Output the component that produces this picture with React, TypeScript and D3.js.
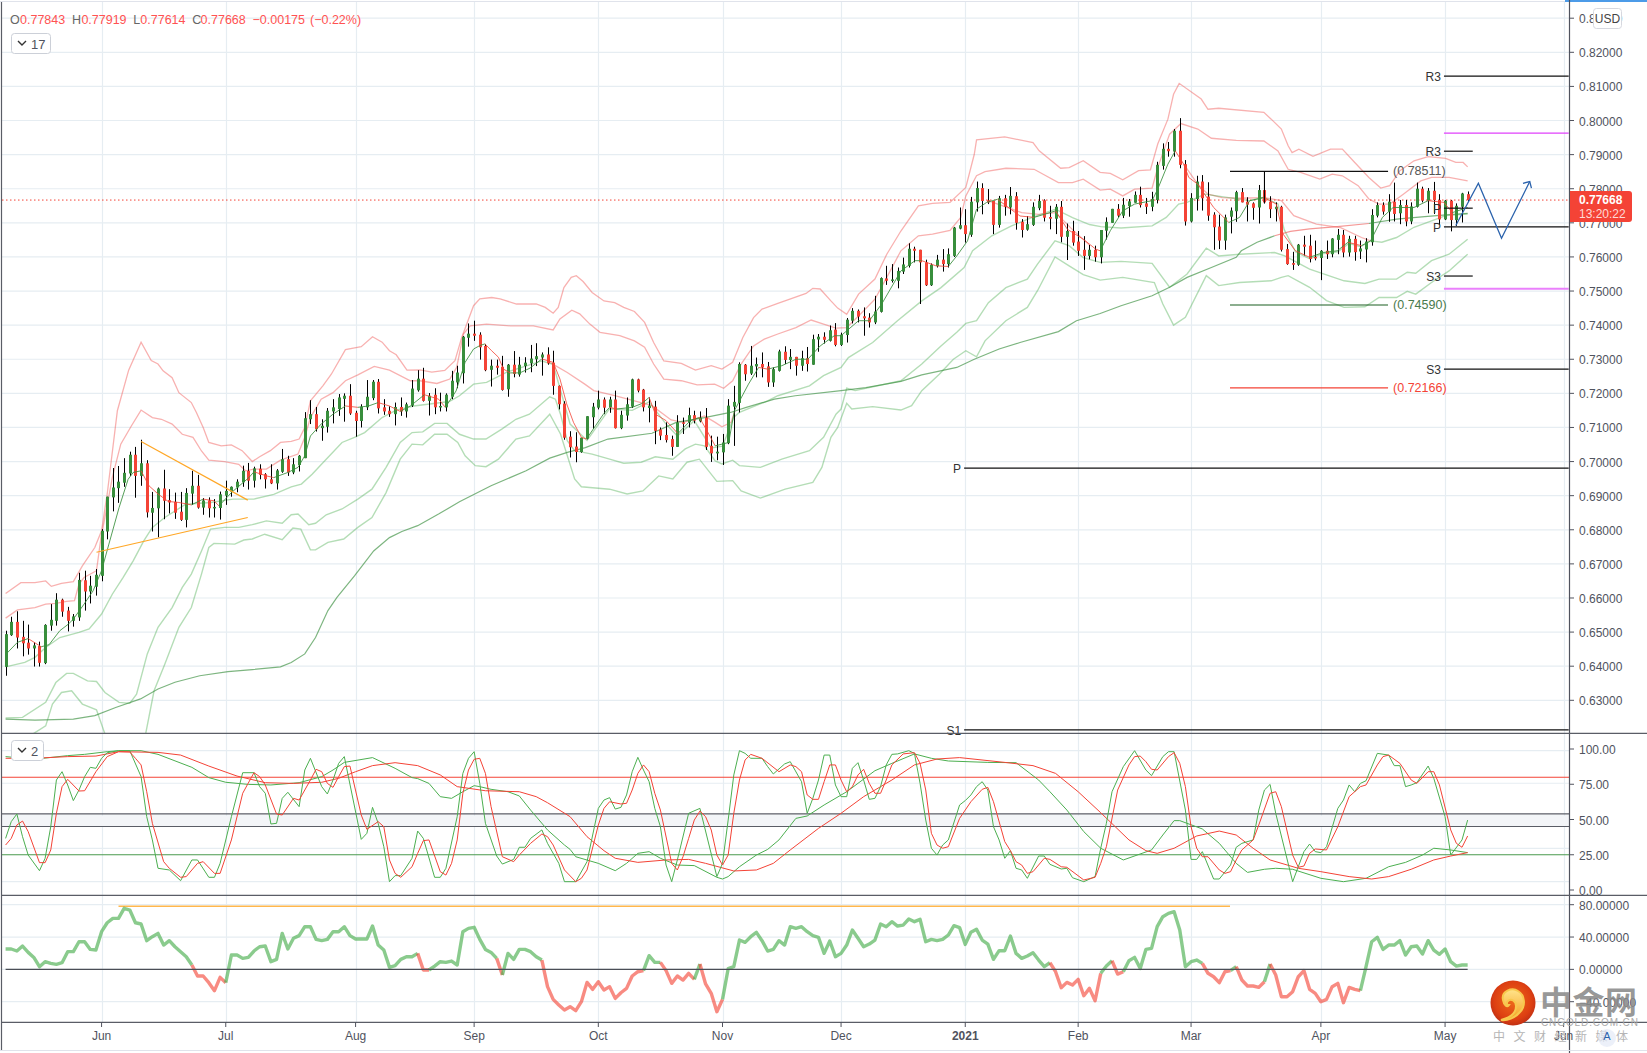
import React from "react";
import * as d3 from "d3";

type P = [number, number];
// [open, high, low, close] × 1e4, one per trading day
const candles: number[][] = [
[6398,6504,6372,6494],[6491,6545,6489,6530],[6530,6561,6452,6484],[6486,6533,6429,6467],[6469,6522,6434,6452],[6452,6470,6399,6461],[6459,6472,6399,6410],[6409,6523,6406,6521],[6519,6582,6504,6536],[6533,6614,6519,6595],
[6595,6598,6545,6560],[6563,6574,6502,6533],[6533,6553,6516,6546],[6543,6674,6533,6653],[6652,6680,6563,6619],[6619,6665,6584,6636],[6633,6685,6607,6668],[6665,6802,6649,6797],[6795,6897,6772,6897],[6895,6981,6854,6924],
[6922,6987,6879,6941],[6938,7010,6926,6967],[6965,7029,6958,7020],[7020,7043,6894,6958],[6958,7064,6929,6995],[6995,7004,6836,6851],[6850,6911,6795,6864],[6863,6924,6778,6921],[6921,6976,6831,6885],[6887,6919,6848,6880],
[6882,6909,6832,6850],[6853,6911,6826,6829],[6829,6922,6807,6908],[6906,6973,6873,6929],[6929,6961,6862,6865],[6865,6893,6844,6886],[6886,6895,6836,6863],[6863,6890,6836,6867],[6864,6912,6830,6904],[6900,6944,6873,6914],
[6912,6927,6897,6926],[6924,6948,6910,6941],[6939,6988,6926,6973],[6973,6996,6918,6944],[6944,6985,6924,6980],[6979,6992,6948,6961],[6963,6966,6921,6948],[6948,6992,6934,6936],[6936,6978,6918,6974],[6970,7037,6967,7007],
[7007,7017,6958,6968],[6968,7010,6963,6992],[6990,7019,6971,7017],[7010,7145,7010,7127],[7124,7180,7110,7139],[7139,7160,7088,7095],[7098,7124,7061,7105],[7102,7157,7085,7149],[7147,7183,7112,7159],[7154,7198,7134,7188],
[7184,7200,7117,7193],[7193,7227,7137,7141],[7143,7149,7073,7119],[7119,7168,7100,7161],[7159,7239,7151,7190],[7186,7239,7180,7234],[7234,7242,7141,7156],[7159,7183,7137,7147],[7149,7162,7131,7139],[7139,7173,7106,7160],
[7160,7188,7134,7147],[7147,7173,7129,7168],[7164,7239,7160,7214],[7209,7268,7205,7243],[7243,7275,7176,7178],[7178,7201,7135,7193],[7196,7215,7139,7159],[7159,7202,7147,7163],[7159,7200,7147,7196],[7190,7266,7183,7237],
[7232,7281,7215,7261],[7259,7368,7229,7366],[7363,7405,7337,7375],[7375,7413,7354,7369],[7372,7379,7299,7335],[7339,7345,7265,7268],[7269,7299,7220,7281],[7281,7299,7255,7275],[7278,7310,7208,7210],[7212,7286,7190,7284],
[7284,7324,7247,7257],[7255,7307,7249,7284],[7280,7306,7261,7290],[7288,7342,7262,7302],[7300,7347,7280,7309],[7305,7320,7252,7314],[7314,7335,7284,7288],[7290,7325,7196,7222],[7222,7223,7153,7168],[7170,7177,7064,7070],
[7073,7089,7012,7042],[7044,7086,6998,7028],[7028,7070,7026,7070],[7067,7133,7065,7133],[7130,7172,7096,7161],[7158,7208,7153,7182],[7182,7188,7139,7158],[7159,7190,7143,7182],[7182,7208,7097,7098],[7098,7149,7095,7137],
[7135,7188,7120,7168],[7161,7243,7157,7241],[7241,7243,7203,7208],[7211,7213,7147,7159],[7157,7188,7115,7164],[7161,7178,7051,7090],[7094,7100,7063,7076],[7078,7115,7056,7063],[7066,7076,7017,7043],[7043,7136,7043,7115],
[7115,7129,7081,7114],[7115,7158,7100,7136],[7136,7149,7112,7120],[7118,7147,7115,7129],[7129,7157,7034,7043],[7046,7076,6999,7024],[7024,7073,7004,7029],[7027,7081,6990,7056],[7054,7183,7051,7164],[7161,7222,7046,7175],
[7172,7291,7144,7286],[7284,7286,7237,7256],[7258,7339,7254,7281],[7279,7305,7247,7286],[7286,7320,7247,7276],[7279,7292,7219,7232],[7232,7276,7219,7271],[7266,7328,7264,7323],[7322,7338,7286,7298],[7298,7330,7271,7307],
[7307,7307,7252,7281],[7281,7325,7266,7303],[7303,7336,7264,7286],[7284,7372,7284,7359],[7358,7374,7322,7366],[7366,7379,7346,7357],[7354,7399,7352,7385],[7387,7406,7338,7342],[7342,7378,7339,7372],[7371,7421,7349,7416],
[7413,7450,7405,7442],[7442,7446,7408,7425],[7426,7452,7369,7420],[7422,7435,7393,7408],[7408,7486,7403,7440],[7439,7540,7437,7538],[7537,7574,7518,7530],[7530,7579,7525,7534],[7530,7569,7508,7559],[7557,7598,7550,7578],
[7574,7640,7569,7624],[7624,7630,7584,7618],[7621,7621,7462,7584],[7584,7592,7515,7517],[7517,7581,7515,7577],[7573,7606,7569,7592],[7592,7623,7557,7579],[7579,7625,7569,7608],[7603,7688,7600,7686],[7683,7745,7681,7693],
[7693,7740,7642,7667],[7665,7776,7659,7762],[7760,7821,7733,7802],[7802,7816,7725,7764],[7766,7799,7755,7760],[7764,7764,7667,7694],[7694,7779,7686,7772],[7772,7782,7721,7747],[7745,7805,7725,7779],[7778,7790,7680,7700],
[7703,7711,7657,7679],[7680,7720,7677,7696],[7694,7760,7691,7747],[7743,7782,7737,7764],[7766,7769,7704,7715],[7717,7750,7681,7712],[7712,7755,7667,7747],[7747,7764,7643,7659],[7659,7698,7591,7676],[7676,7706,7633,7642],
[7645,7676,7603,7618],[7621,7661,7562,7603],[7603,7635,7593,7621],[7621,7633,7586,7599],[7599,7679,7581,7679],[7677,7716,7651,7703],[7700,7741,7700,7741],[7741,7755,7716,7721],[7721,7773,7714,7753],[7749,7770,7718,7763],
[7759,7792,7759,7782],[7782,7806,7745,7752],[7757,7773,7726,7747],[7747,7791,7734,7770],[7767,7879,7757,7870],[7867,7933,7856,7917],[7917,7937,7894,7910],[7909,7975,7894,7970],[7970,8007,7860,7870],[7872,7884,7692,7704],
[7704,7787,7701,7773],[7770,7838,7736,7821],[7821,7840,7736,7772],[7777,7819,7706,7721],[7724,7731,7621,7687],[7689,7724,7623,7648],[7648,7724,7621,7716],[7718,7745,7669,7736],[7734,7794,7703,7790],[7790,7802,7760,7760],
[7762,7775,7704,7753],[7757,7760,7709,7744],[7745,7811,7698,7796],[7796,7851,7757,7760],[7762,7778,7714,7740],[7740,7760,7704,7747],[7747,7750,7616,7621],[7623,7638,7577,7579],[7582,7615,7562,7577],[7577,7638,7574,7636],
[7636,7662,7604,7630],[7633,7665,7584,7594],[7600,7648,7590,7597],[7597,7620,7532,7618],[7618,7648,7594,7608],[7608,7655,7599,7654],[7650,7682,7608,7665],[7665,7679,7599,7613],[7613,7662,7601,7653],[7653,7662,7589,7614],
[7616,7648,7594,7625],[7622,7655,7584,7645],[7643,7740,7633,7723],[7721,7760,7716,7752],[7752,7760,7724,7733],[7733,7784,7703,7762],[7762,7818,7704,7726],[7728,7767,7696,7752],[7752,7767,7690,7704],[7704,7760,7696,7748],
[7747,7818,7745,7800],[7800,7806,7760,7765],[7765,7802,7728,7794],[7794,7820,7726,7767],[7767,7784,7694,7710],[7710,7767,7708,7765],[7765,7767,7675,7708],[7708,7757,7691,7750],[7747,7788,7701,7786],[7784,7792,7761,7767],
];

const upperOuter: P[] = [[0,6613],[2.7,6645],[5.2,6645],[7.1,6650],[8.1,6634],[9.9,6643],[12,6648],[13.6,6694],[15.8,6748],[17,6797],[18,6905],[19.8,7149],[21.8,7268],[24,7350],[25.8,7296],[27,7286],[27.9,7266],[29.5,7246],[30.7,7202],[32.9,7173],[33.8,7144],[35,7100],[36,7056],[38.2,7046],[40,7049],[41.9,7032],[43.7,7000],[45,7014],[46.9,7032],[48.7,7056],[50.6,7059],[52,7066],[53,7100],[54,7178],[56.2,7222],[57.7,7256],[60.2,7328],[63,7337],[65,7366],[66.7,7350],[68,7325],[69.2,7313],[71.1,7268],[73.4,7269],[75.5,7262],[77.8,7267],[79.6,7296],[80.8,7364],[82.9,7457],[84,7477],[86.1,7481],[87.6,7477],[90.5,7462],[94,7462],[95.6,7452],[97,7435],[97.9,7452],[98.9,7510],[100.2,7540],[101.1,7545],[102.3,7528],[103.9,7496],[106,7471],[107.9,7466],[109.5,7452],[111.4,7440],[113.2,7408],[114.8,7349],[116.6,7295],[119.7,7288],[122.2,7268],[125,7281],[126.9,7271],[128.8,7291],[130.6,7364],[132.5,7422],[134,7447],[136.8,7464],[141.8,7493],[143,7508],[144.3,7506],[146.2,7471],[147.4,7450],[149,7432],[151.1,7491],[154,7535],[156.1,7608],[158.6,7676],[161.7,7750],[164.2,7757],[167.3,7760],[170.1,7804],[171.6,7901],[172,7943],[177,7952],[182,7935],[183.1,7911],[186.9,7860],[188.4,7862],[190.9,7882],[193.9,7848],[195.7,7845],[197.9,7826],[200.7,7853],[202.8,7855],[204.1,7931],[205.9,8004],[206.9,8077],[207.9,8109],[211.8,8063],[213,8033],[214.9,8036],[222.9,8024],[224.2,8004],[226,7975],[227.2,7926],[227.9,7906],[229.1,7916],[231.6,7895],[234.7,7916],[236.8,7916],[239,7877],[241.5,7833],[243.6,7802],[245.2,7809],[247,7853],[249.5,7882],[252,7894],[255.1,7889],[256.9,7877],[258.2,7877],[259,7864]];
const upperInner: P[] = [[0,6541],[2.1,6565],[5.2,6572],[7.1,6582],[8.9,6584],[10.8,6590],[12.2,6592],[13,6641],[13.9,6660],[16.1,6680],[16.9,6777],[17.6,6836],[18.9,6953],[20.4,7051],[22.3,7105],[24,7151],[26,7129],[27.6,7124],[29.5,7110],[31.3,7080],[33.2,7071],[34.7,7031],[36,7004],[38.8,7000],[41.3,6992],[42.5,6973],[44,6978],[46.2,6978],[48.7,7004],[51.8,7022],[53,7071],[54,7129],[55.9,7183],[58,7202],[60.2,7237],[62.4,7254],[65.3,7279],[68,7268],[71.7,7237],[73.4,7237],[76.4,7229],[78.7,7242],[79.9,7276],[81.1,7374],[82.3,7398],[85.2,7403],[89.4,7398],[93.5,7398],[97,7386],[98.2,7418],[100.3,7444],[101.7,7433],[103.5,7403],[105.3,7379],[108.8,7369],[111.4,7354],[113.2,7335],[114.8,7286],[116.6,7242],[119.7,7237],[122.5,7225],[125.6,7227],[127.2,7215],[128.8,7237],[130.3,7286],[132.5,7339],[134.4,7359],[136.8,7374],[140,7393],[142.7,7415],[144.9,7403],[147.1,7391],[149,7393],[151.1,7427],[154,7476],[156.1,7540],[158.6,7618],[161.7,7662],[164.2,7667],[167.3,7678],[169.2,7716],[170.1,7779],[172,7838],[173.5,7850],[177.2,7860],[182.2,7857],[186.5,7818],[189,7818],[190.9,7828],[193.9,7796],[195.7,7799],[197.9,7779],[200,7799],[203.1,7802],[204.1,7862],[206.2,7960],[208.2,7991],[211.2,7975],[213.6,7948],[218,7942],[222.9,7940],[225.4,7911],[227.2,7857],[229.4,7848],[232.8,7828],[235,7843],[236.8,7838],[239.6,7809],[241.5,7770],[243.3,7755],[245.2,7755],[247.6,7784],[250.7,7823],[252.6,7833],[255.7,7833],[259,7823]];
const upperNearSepNov: P[] = [[96.4,7291],[99.5,7261],[102.6,7227],[104.2,7208],[107.9,7193],[111.4,7178],[114.5,7164],[117.9,7122],[120.1,7115],[123.8,7134],[125.7,7115],[126.9,7102],[128.5,7115],[129.2,7149]];
const upperNearJan: P[] = [[174,7765],[180,7730],[183,7725],[186,7730],[189,7680],[192,7635]];
const upperNearMar: P[] = [[208.7,7872],[211.2,7813],[213,7784],[215.5,7774],[218.6,7772],[222.9,7774],[226,7765],[228.2,7721],[232.2,7696],[236.5,7686],[240.2,7657],[241.8,7647]];
const movingAvg: P[] = [[0,6434],[2.1,6470],[4,6481],[6.3,6457],[7.7,6463],[9.6,6504],[11.1,6523],[12,6538],[13.9,6582],[15.5,6621],[17,6680],[18.3,6758],[20.1,6865],[21.7,6948],[22.6,6968],[24,6973],[25.4,6929],[27,6905],[28.8,6883],[30.7,6880],[32.9,6873],[35,6890],[36.9,6885],[37.8,6870],[40,6909],[43.1,6953],[44,6970],[46.2,6958],[47.5,6953],[50,6968],[51.8,6983],[53,7017],[54,7075],[55.9,7110],[58,7139],[60.2,7163],[62.4,7159],[64.3,7163],[66,7173],[68,7163],[69.9,7147],[71.7,7163],[74.2,7196],[76.7,7183],[77.9,7159],[79.8,7207],[81.4,7291],[82.9,7330],[84,7340],[84.9,7345],[86.1,7325],[87.3,7306],[88.2,7271],[89.4,7260],[91.1,7260],[92.9,7274],[95,7301],[97,7291],[98.2,7242],[99.4,7169],[100.6,7115],[102,7071],[102.9,7066],[104.5,7105],[105.9,7139],[107,7159],[108.2,7154],[111,7159],[112.7,7170],[114,7188],[115.1,7139],[117,7120],[119.1,7082],[121.3,7120],[122.9,7129],[124.1,7095],[125.7,7046],[126.9,7051],[128.1,7056],[129.1,7149],[131.6,7227],[133.4,7276],[135,7271],[137.5,7281],[140,7300],[142.1,7300],[144.3,7339],[146.8,7369],[148,7369],[151.1,7413],[153,7413],[155.2,7462],[158.6,7559],[161.1,7589],[162.3,7589],[164.8,7574],[167,7572],[168.5,7603],[170.4,7647],[172,7740],[173.8,7760],[175.7,7769],[179.7,7720],[182.2,7716],[186,7735],[188.1,7681],[190.9,7652],[193.1,7623],[193.9,7618],[195.7,7677],[197.9,7735],[200,7755],[203.1,7765],[204.1,7799],[205.9,7872],[207.2,7911],[208.7,7872],[209.6,7833],[211.2,7813],[212.4,7784],[214,7745],[216.7,7701],[218.6,7716],[220.4,7765],[222.9,7774],[225.1,7755],[226.3,7667],[228.5,7618],[231,7599],[233.4,7613],[235.9,7618],[237.8,7643],[240.2,7633],[241.8,7647],[243.9,7716],[245.8,7745],[249.5,7745],[252,7765],[254.8,7760],[256.3,7730],[259,7745]];
const lowerNear: P[] = [[0,6398],[3.4,6411],[5.2,6426],[7.1,6455],[9.6,6484],[13,6499],[14.8,6509],[17,6553],[18.9,6611],[20.8,6660],[22.6,6709],[24.5,6768],[26,6807],[28.2,6836],[31.9,6875],[36.3,6880],[40.3,6890],[44,6890],[47.5,6904],[50.6,6926],[52.4,6934],[54.3,6963],[56.8,7007],[59.6,7056],[61.8,7071],[63.6,7085],[66.7,7129],[69.2,7151],[72.3,7163],[78.6,7176],[80.4,7193],[82.9,7227],[85.2,7232],[88.8,7262],[95,7295],[97,7285],[100,7110],[103,7062],[107,7155],[111,7150],[114,7175],[117,7110],[119,7075],[122,7120],[125,7040],[127,7045],[129,7130],[130,7144],[135,7178],[136.8,7193],[142.4,7222],[144.9,7252],[148,7276],[149.3,7305],[153.6,7349],[158,7413],[162.3,7471],[165.7,7510],[169.8,7569],[171.3,7618],[174.7,7662],[178.2,7691],[182.2,7718],[186,7740],[189,7715],[192,7695],[194,7689],[197.6,7685],[203.1,7691],[205.6,7716],[207.8,7755],[209.3,7760],[212.4,7784],[220.4,7765],[222.9,7775],[225.4,7755],[226.5,7680],[228.5,7615],[231,7595],[233.4,7610],[236,7615],[238,7640],[240,7630],[241.8,7647],[243.8,7643],[246.4,7657],[249.5,7687],[252.6,7706],[255.1,7721],[259,7726]];
const lowerMid: P[] = [[0,6248],[3,6250],[7.1,6294],[8.9,6352],[10.8,6379],[12,6379],[14.5,6357],[16.1,6355],[17.6,6323],[20.1,6294],[22,6291],[23.2,6318],[25.1,6436],[27,6514],[29.5,6572],[31.3,6631],[32.9,6670],[34.7,6738],[36.3,6802],[38.8,6807],[41.3,6807],[43.7,6815],[46.2,6826],[49,6819],[50.6,6844],[51.8,6846],[53.7,6815],[54.9,6819],[56.8,6844],[59.6,6861],[62.4,6890],[64.9,6919],[67.4,6983],[69.9,7056],[72,7085],[73.9,7087],[76,7112],[78.2,7112],[80.4,7080],[82.9,7066],[85.1,7066],[87.9,7095],[90.4,7124],[92.8,7139],[96.4,7190],[97.4,7183],[98.3,7139],[99.5,7061],[100.8,7032],[103.9,7022],[107,7007],[109.5,6995],[112.6,6998],[115.1,7014],[118.2,7007],[120.4,7037],[122.2,7051],[123.8,7046],[125.7,7002],[126.9,6993],[128.8,7004],[130,6988],[133.7,6983],[137.5,7007],[142.4,7032],[144.9,7071],[147.1,7139],[148,7154],[149,7215],[150.5,7208],[158.6,7237],[162.3,7286],[165.7,7339],[168.5,7379],[170.1,7405],[172,7413],[174.1,7466],[177.2,7510],[181,7535],[182.8,7579],[185.9,7647],[188.4,7633],[190.9,7598],[193.9,7584],[197.6,7587],[203.1,7581],[206.2,7511],[209.3,7550],[212.7,7626],[214.9,7603],[218.6,7608],[224.8,7613],[226.6,7603],[231,7564],[237.1,7530],[240.8,7522],[243.3,7535],[246.4,7535],[248.3,7555],[249.8,7552],[252.6,7589],[255.7,7608],[259,7652]];
const lowerOuter: P[] = [[0,6142],[5,6203],[7.1,6225],[8.3,6289],[9.9,6323],[11.7,6328],[13.6,6289],[16.1,6272],[17.6,6201],[18.9,6094],[23.5,6094],[24.8,6201],[26.3,6328],[28.2,6406],[30.7,6514],[32.9,6572],[34.7,6670],[36,6748],[36.9,6760],[40.6,6758],[42.2,6770],[43.7,6773],[45.9,6787],[49,6771],[50.9,6805],[52.3,6802],[54,6741],[54.9,6741],[57.1,6763],[59.9,6773],[62.4,6807],[64.9,6836],[67.4,6909],[69.9,7007],[72,7051],[73.9,7049],[76,7080],[78.2,7080],[80.1,7056],[81.4,7017],[83.2,6988],[85.1,6985],[87.3,7007],[90.4,7066],[92.8,7075],[96.4,7139],[98.3,7081],[100.8,6949],[102,6926],[107,6919],[110.1,6905],[112.9,6914],[115.7,6958],[118.2,6949],[120.7,6998],[122.9,7007],[126,6942],[128.8,6944],[130.3,6914],[133.7,6893],[138.1,6919],[143,6939],[144.6,6983],[146.2,7071],[147.4,7100],[149,7171],[149.9,7154],[153.6,7161],[158.6,7151],[160.5,7164],[162.3,7208],[165.4,7256],[167.9,7300],[170.1,7325],[172,7307],[173.5,7354],[177.2,7413],[181,7452],[182.8,7501],[185.9,7600],[188.4,7574],[190.9,7548],[193.9,7532],[197.9,7540],[203.5,7525],[205,7462],[206.9,7400],[209,7423],[212.7,7545],[214.9,7516],[218.6,7525],[224.2,7530],[226,7540],[227.2,7545],[231,7511],[234,7472],[237.1,7452],[240.8,7454],[243.3,7481],[246.4,7481],[248.3,7499],[249.8,7491],[252.6,7525],[255.7,7559],[259,7608]];
const longAvg: P[] = [[0,6245],[5.2,6242],[12,6245],[15.8,6255],[19.5,6279],[23.9,6304],[27,6333],[30,6353],[34.4,6372],[39.4,6384],[43.7,6390],[48.7,6398],[50.6,6411],[53,6436],[54.9,6484],[57.1,6563],[58.7,6602],[61.8,6665],[65.2,6738],[68,6777],[70.2,6795],[73,6812],[76.7,6846],[80.4,6882],[86,6929],[92.2,6973],[96.4,7010],[99.5,7027],[102.7,7041],[106.7,7066],[114.5,7083],[118.8,7115],[123.8,7129],[128.4,7144],[131.2,7159],[136.2,7183],[139.9,7193],[148,7208],[152.4,7217],[158.6,7235],[162.3,7254],[168.5,7276],[171.6,7300],[176,7330],[179.7,7349],[186.5,7381],[189.7,7413],[193.9,7434],[197.6,7457],[203.1,7486],[206.2,7511],[209.3,7540],[213.6,7569],[218,7599],[218.9,7618],[221.7,7643],[224.8,7662],[227.6,7675],[231,7682],[235.9,7689],[241.5,7698],[246.4,7711],[251.4,7718],[255.7,7724],[259,7728]];
const fallingLongRange = [224.8, 241.5];

const triangleUpper: P[] = [[24,7059],[42.9,6887]];
const triangleLower: P[] = [[16.1,6734],[42.9,6836]];
const forecastPath: P[] = [[256.9,7692],[260.9,7816],[265,7655],[270,7821]];
const forecastHead: P[] = [[268.8,7816],[270,7821],[270.3,7802]];

const levelValues = [8130,7963,7910,7851,7743,7688,7544,7507,7459,7271,7216,6981,6213];
const levelFrom = [254.8,254.8,254.8,216.9,254.8,254.8,254.8,254.8,216.9,254.8,216.9,169.8,169.8];
const levelTo = [276.9,276.9,259.9,244.9,259.9,276.9,259.9,276.9,244.9,276.9,244.9,276.9,276.9];
const levelColors = ["#111","#e040fb","#111","#111","#111","#111","#111","#ea80fc","#1b5e20","#111","#f44336","#111","#111"];
const levelWidths = [1.2,1.2,1.2,1.2,1.2,1.2,1.2,2,1.2,1.2,1.2,1.2,1.2];
const levelLabels = ["R3","","R3","","P","P","S3","","","S3","","P","S1"];
const levelTags = ["","","","(0.78511)","","","","","(0.74590)","","(0.72166)","",""];
const tagColors = ["","","","#555","","","","","#4a7a4c","","#f44336","",""];

const monthIdx = [17,39,62,83,105,127,148,170,190,210,233,255,276];
const monthNames = ["Jun","Jul","Aug","Sep","Oct","Nov","Dec","2021","Feb","Mar","Apr","May","Jun"];
const priceTicks = [0.83,0.82,0.81,0.8,0.79,0.78,0.77,0.76,0.75,0.74,0.73,0.72,0.71,0.7,0.69,0.68,0.67,0.66,0.65,0.64,0.63];

const stochTicks = [100,75,50,25,0];
const stochGrid = [98.8,75.7,52.5,29.5,5.9];
const stochLevels = [80,54,45,25];
const momTicks = [80,40,0,-40];

const fastK: P[] = [[0,36.6],[1,48.5],[2,53.9],[3,37.8],[4,24.8],[6,13.7],[7,22.5],[8,44.9],[9,78],[10,83.9],[11,74.5],[12,63.4],[13,70.9],[14,80.4],[15,87],[16,86.3],[17,93.4],[18,97.4],[20,98.8],[22,98.8],[24,80.4],[25,52],[26,35.5],[27,15.4],[29,14.2],[31,6.6],[33,21.3],[34,21.3],[36,9],[37,9],[38,18.9],[40,52],[42,83.2],[44,83.2],[45,73.3],[46,68.6],[47,46.8],[48,47.3],[49,65],[50,69.3],[52,59.1],[53,85.1],[54,93.4],[56,73.3],[57,68.1],[58,78],[59,89.8],[60,94.6],[63,35.9],[64,40.2],[65,58.6],[66,47.3],[67,30.7],[68,5.9],[69,10.2],[70,10.2],[72,22.5],[73,41.8],[74,36.6],[76,9],[77,9],[78,15.4],[80,52],[81,82.7],[82,93.4],[83,98.1],[84,75.6],[85,47.3],[87,24.1],[88,18.4],[90,21.7],[91,30.3],[92,30.3],[93,36.6],[95,42.6],[96,33.1],[98,18.9],[99,5.9],[101,5.9],[103,20.1],[105,57.9],[106,63.8],[107,65.5],[108,57.4],[109,58.6],[110,67.4],[111,83.9],[112,94.1],[113,85.1],[114,76.8],[115,57.9],[116,44.9],[117,17.7],[118,5.9],[119,21.3],[121,54.4],[123,57.9],[126,9.5],[127,18.9],[128,49.6],[129,81.6],[130,98.8],[131,96.9],[132,93.4],[134,93.4],[135,87.5],[136,82.3],[138,89.4],[139,91],[141,76.8],[142,54.4],[143,65],[144,78],[145,95.7],[146,95.7],[147,74.5],[148,66.2],[149,66.2],[150,86.3],[151,90.3],[152,78],[153,64.3],[154,65],[155,73.3],[156,88.7],[157,96.2],[158,96.5],[160,98.8],[161,96.9],[162,75.6],[163,49.6],[164,29.6],[165,24.8],[166,31.9],[167,35.5],[169,60.3],[170,63.4],[171,67.4],[172,73.3],[173,76.8],[174,70.9],[175,44.9],[176,35.5],[177,22.5],[178,27.9],[179,15.4],[180,14.2],[181,8.3],[183,24.1],[184,24.1],[185,18.2],[187,14.9],[188,15.4],[189,8.7],[191,5.9],[193,9.5],[194,29.6],[195,47.3],[196,69.7],[198,87.5],[200,98.8],[202,85.1],[203,81.1],[205,94.6],[206,98.1],[207,98.1],[209,56.7],[210,21.7],[211,21.7],[212,27.2],[214,7.8],[215,7.8],[217,17.7],[218,30.3],[219,33.1],[221,35.5],[222,56.7],[223,70.9],[224,74.9],[225,54.4],[228,5.9],[230,27.2],[231,32.6],[232,27.2],[233,26.5],[234,30.7],[236,57.9],[237,63.8],[238,74.5],[239,69.7],[240,75.6],[241,77.5],[243,96.9],[245,95.7],[246,88.2],[247,88.2],[248,73.3],[249,74.5],[250,76.1],[252,87.9],[253,79.2],[255,52],[256,24.8],[258,35.5],[259,49.6]];
const fastD: P[] = [[0,31.9],[1,36.6],[2,46.1],[3,48.9],[4,41.4],[6,19.4],[7,19.4],[8,28.4],[9,54.4],[10,73.3],[11,78.5],[13,70.2],[14,70.4],[16,83.9],[18,94.6],[20,98.1],[22,97.9],[23,93.4],[24,88.7],[25,69.7],[26,47.3],[28,20.1],[29,15.4],[31,9],[32,9.5],[34,18.9],[35,20.1],[37,11.8],[38,11.8],[40,35.5],[42,68.6],[44,83.2],[45,80.4],[46,74.5],[48,53.9],[49,53.2],[51,65],[52,63.8],[54,78],[55,85.6],[56,83.9],[57,75.6],[58,72.8],[59,80.4],[60,87.5],[61,87.9],[63,53.2],[64,43],[66,48.5],[67,44.9],[68,21.3],[69,11.8],[70,9],[72,16.5],[73,26],[74,35],[75,35.5],[77,13],[78,10.6],[79,18.9],[80,35.5],[81,68.6],[82,85.1],[83,92.7],[84,93.4],[85,82.7],[86,59.1],[88,23.6],[90,20.1],[91,24.8],[93,33.1],[95,39.7],[96,37.8],[97,31.9],[99,14.2],[101,5.9],[102,8.3],[103,14.2],[105,46.1],[106,57.9],[107,62.6],[109,61],[110,61.5],[111,70.9],[112,82.7],[113,88.7],[114,83.9],[115,68.6],[116,56.7],[118,18.9],[119,14.2],[120,23.6],[121,36.6],[122,49.6],[123,56],[124,52],[125,42.6],[126,24.8],[127,17.7],[128,24.8],[129,54.4],[130,78],[131,92.2],[132,96.2],[134,93.4],[137,83.9],[139,88.7],[140,87.5],[141,83.9],[142,67.4],[143,64.3],[144,64.3],[145,76.8],[146,88.7],[147,88.7],[148,78],[149,69.7],[150,73.3],[151,81.6],[152,85.6],[153,75.6],[154,68.6],[155,68.6],[156,78],[157,88.7],[159,96.5],[161,97.4],[162,89.8],[163,70.9],[164,40.2],[165,31.9],[166,29.6],[167,30.7],[169,50.8],[171,62.6],[173,71.4],[174,72.8],[175,62.6],[177,34.3],[178,27.9],[179,20.1],[180,17.7],[181,11.8],[182,13],[184,22.5],[185,21.7],[187,16.5],[188,16.1],[191,7.1],[193,9],[194,18.9],[195,30.7],[197,70.9],[199,88.7],[200,94.6],[201,95],[202,91],[203,85.6],[204,85.1],[206,94.6],[207,97.4],[208,89.8],[209,73.3],[210,44.9],[211,29.6],[212,23.6],[213,23.6],[215,14.2],[216,11.8],[217,13],[218,21.3],[219,28.4],[221,35.5],[222,46.1],[224,68.6],[225,69.7],[226,59.1],[228,24.8],[229,16.1],[230,17],[231,26],[232,29.1],[234,28.4],[236,44.9],[238,66.2],[240,73.3],[241,74.5],[243,88.7],[244,94.6],[245,95.7],[247,89.8],[249,78],[250,75.6],[252,83.9],[253,83.9],[254,74.5],[256,42.6],[257,33.1],[258,30.3],[259,38.3]];
const slowK: P[] = [[0,94.6],[5,92.7],[11,95.3],[14,96.2],[18,98.1],[20,98.8],[24,98.8],[27,96.2],[33,87],[36,79.7],[39,76.4],[43,74.9],[47,74.5],[52,76.1],[56,80.4],[58,85.1],[60,90.5],[65,93.9],[69,86.3],[72,79.7],[73,79],[75,75.6],[77,66.2],[79,65],[81,69.7],[83,74],[84,73.3],[86,71.4],[89,69.7],[91,66.7],[93,56.7],[96,42.6],[99,31.9],[100,28.8],[101,23.6],[105,18.9],[108,13.7],[110,18.9],[112,26],[114,27.2],[116,22.5],[119,17.7],[122,17.3],[126,9],[127,7.8],[128,9.5],[130,16.5],[133,24.8],[135,28.8],[137,35.5],[140,50.8],[142,52.5],[145,60.3],[149,69.7],[154,84.6],[157,89.8],[161,96.5],[164,93.4],[167,91.5],[174,90.5],[179,90.3],[183,78],[185,69.7],[188,56.7],[191,41.4],[194,29.6],[198,21.3],[203,28.4],[205,39],[207,49.2],[208,49.2],[212,43.3],[215,33.1],[218,18.9],[220,12.5],[223,14.7],[225,15.4],[228,14.7],[233,8.3],[237,5.9],[241,8.3],[245,16.5],[248,19.6],[251,24.8],[253,29.6],[256,28.4],[259,26.5]];
const slowD: P[] = [[0,93.4],[5,93.4],[11,94.6],[16,95],[20,98.1],[27,97.6],[31,95.7],[36,87.9],[41,80.8],[46,76.1],[51,75.6],[56,76.4],[59,79.2],[62,83.9],[65,88.2],[69,90.3],[73,88.2],[77,81.6],[80,73.3],[85,70.4],[91,69.7],[94,66.2],[96,61.9],[100,52],[103,37.8],[106,27.9],[108,22.5],[112,19.6],[117,21.3],[121,21.7],[124,18.9],[129,13.5],[133,14.2],[136,18.9],[139,28.4],[144,43.7],[148,54.4],[152,66.2],[157,78],[161,88.7],[165,92.9],[169,93.9],[177,90.5],[182,88.2],[186,82.7],[190,69.7],[194,54.8],[199,35.5],[202,27.9],[204,26],[207,29.6],[211,38.3],[215,41.8],[218,39],[221,29.6],[224,21.3],[229,15.4],[233,13],[238,9.5],[242,7.8],[245,9.5],[249,14.7],[253,21.3],[256,24.1],[259,26.5]];

const momentum = [25.2,25.2,22.7,28.9,21,14.8,3.3,9.5,7.4,6.2,8.2,21.9,21.9,34.2,34.2,24.7,23.9,46.6,57.7,63.1,63.1,75.5,73.4,57.7,56.1,35.5,40.4,44.5,30.1,35.5,28,21.9,15.7,5.4,-8.2,-8.2,-16.5,-26.4,-9.9,-16.5,17.7,17.7,13.6,14.8,22.7,28,28.9,9.5,12.4,44.5,25.2,38.4,41.7,52.8,52.8,37.1,35.5,37.1,46.6,46.6,52.8,41.7,37.5,37.5,37.5,53.6,30.1,23.9,2.5,4.5,12.4,15.7,15.7,19.8,-0.8,-0.8,4.1,9.5,8.7,10.3,5.4,46.6,50.7,52,37.1,24.7,21,13.6,-7,19.8,12.4,24.7,24.7,21.9,15.7,11.5,-21.4,-37.1,-44.1,-50.3,-46.2,-51.1,-40,-16.1,-24.7,-15.3,-25.6,-21.4,-35.9,-28.9,-23.5,-8.2,-2.9,-1.6,16.9,8.7,8.7,-1.6,-17.3,-8.2,-13.2,-4.9,-12.4,6.6,-18.1,-29.7,-52.4,-37.1,0.8,3.3,36.3,33.4,40.4,45.8,35.5,22.7,24.7,35.5,30.1,52.8,50.7,52.8,46.6,41.7,39.6,19.8,35.1,15.7,19.8,30.1,48.7,38.4,28,31.3,36.3,56.1,52.8,59,53.6,54.8,62.3,59,61.9,34.2,37.1,35.5,37.1,42.5,54,51.6,30.9,45.8,49.5,36.3,31.3,12.4,23.1,23.1,41.2,19.8,13.6,16.5,20.6,11.5,3.3,8.2,-2.9,-22.7,-16.1,-19.4,-12.4,-32.6,-23.5,-38.8,-4.9,4.1,10.7,-5.8,-2.9,10.7,14.8,1.2,24.7,26,52.8,65.2,69.3,71.3,48.7,3.3,9.5,11.5,7.4,-4.9,-9.1,-16.5,-2.9,-1.6,3.3,-13.2,-20.6,-20.6,-22.3,-15.3,6.6,-7,-33.8,-33.8,-27.6,-9.1,-1.6,-24.7,-29.7,-40,-37.1,-21.4,-17.3,-41.2,-22.3,-24.7,-26.4,3.3,34.2,39.6,24.7,30.1,30.1,35.5,17.7,28,28.9,19,35.5,23.9,18.6,25.2,9.5,4.1,5.4,5.4];
const momentumRedRanges: P[] = [[33,39],[73,75],[87,88],[95,113],[116,122],[123,127],[185,194],[196,198],[212,217],[218,223],[224,240]];
const momentumLevel = 78;
const momentumLevelRange: P = [20,216.9];

const FONT = "'Liberation Sans', Arial, sans-serif";
const GRID = "#e6edf2";
const AXIS = "#50535e";
const GREEN = "#388e3c";
const RED = "#f44336";
const W = 1647, AX = 1569;

const x = d3.scaleLinear().domain([0, 259]).range([5.6, 5.6 + 5.645 * 259]);
const yP = d3.scaleLinear().domain([0.63, 0.83]).range([700.3, 18.2]);
const yS = d3.scaleLinear().domain([0, 100]).range([890, 749]);
const yM = d3.scaleLinear().domain([-40, 80]).range([1001.7, 904.7]);

const priceLine = d3.line<P>().x((d) => x(d[0])).y((d) => yP(d[1] / 1e4));
const stochLine = d3.line<P>().x((d) => x(d[0])).y((d) => yS(d[1]));
const momLine = d3.line<P>().x((d) => x(d[0])).y((d) => yM(d[1]));

function rangesOf(): { red: boolean; from: number; to: number }[] {
  const out: { red: boolean; from: number; to: number }[] = [];
  let cur = 0;
  for (const [a, b] of momentumRedRanges) {
    if (a > cur) out.push({ red: false, from: cur, to: a });
    out.push({ red: true, from: a, to: b });
    cur = b;
  }
  out.push({ red: false, from: cur, to: momentum.length - 1 });
  return out;
}

function maSegments() {
  const segs: { up: boolean; pts: P[] }[] = [];
  for (let i = 1; i < movingAvg.length; i++) {
    const up = movingAvg[i][1] >= movingAvg[i - 1][1];
    const last = segs[segs.length - 1];
    if (last && last.up === up) last.pts.push(movingAvg[i]);
    else segs.push({ up, pts: [movingAvg[i - 1], movingAvg[i]] });
  }
  return segs;
}

const PaleRed = { stroke: "rgba(239,83,80,0.45)", strokeWidth: 1.3, fill: "none" };
const PaleGreen = { stroke: "rgba(76,175,80,0.42)", strokeWidth: 1.4, fill: "none" };

function Btn({ x0, y0, w, h, label }: { x0: number; y0: number; w: number; h: number; label: string }) {
  return (
    <g>
      <rect x={x0 + 0.5} y={y0 + 0.5} width={w} height={h} rx={3} fill="#fff" stroke="#ccd0d8" />
      <path d={`M${x0 + 7},${y0 + 8} l4,4 l4,-4`} fill="none" stroke="#333" strokeWidth={1.4} />
      <text x={x0 + 20} y={y0 + h / 2 + 1} fontSize={13} fill="#50535e" dominantBaseline="central">{label}</text>
    </g>
  );
}

export default function App() {
  const pieces: [string, number, string][] = [
    ["O", 10, "#666"], ["0.77843", 20, "#ff5252"], ["H", 72, "#666"], ["0.77919", 81.4, "#ff5252"],
    ["L", 133.3, "#666"], ["0.77614", 140.3, "#ff5252"], ["C", 192.2, "#666"], ["0.77668", 200.6, "#ff5252"],
    ["−0.00175", 252.5, "#ff5252"], ["(−0.22%)", 310, "#ff5252"],
  ];
  const longGreenA = longAvg.filter((d) => d[0] <= fallingLongRange[0]);
  const longRed = longAvg.filter((d) => d[0] >= fallingLongRange[0] && d[0] <= fallingLongRange[1]);
  const longGreenB = longAvg.filter((d) => d[0] >= fallingLongRange[1]);
  return (
    <svg width={W} height={1053} viewBox={`0 0 ${W} 1053`} fontFamily={FONT}
      style={{ position: "absolute", left: 0, top: 0, background: "#fff", display: "block" }}>
      <defs>
        <clipPath id="main"><rect x={2} y={2} width={AX - 2} height={731} /></clipPath>
        <radialGradient id="logo" cx="50%" cy="45%" r="60%">
          <stop offset="0%" stopColor="#ee6a1a" /><stop offset="70%" stopColor="#dd3f12" /><stop offset="100%" stopColor="#b62a14" />
        </radialGradient>
        <linearGradient id="swirl" x1="0" y1="0" x2="0" y2="1">
          <stop offset="0%" stopColor="#ffe38a" /><stop offset="100%" stopColor="#f5a01e" />
        </linearGradient>
      </defs>
      <rect x={0} y={0} width={W} height={1053} fill="#fff" />
      <line x1={0} x2={W} y1={1.5} y2={1.5} stroke="#e0e3eb" />
      <rect x={1565} y={0} width={82} height={2} fill="#4c9be8" />

      {/* vertical grid */}
      {monthIdx.map((m, i) => (
        <line key={i} x1={Math.round(x(m)) + 0.5} x2={Math.round(x(m)) + 0.5} y1={2} y2={1022} stroke={GRID} strokeWidth={1.2} />
      ))}
      {/* horizontal grids */}
      {priceTicks.map((t) => (
        <line key={t} x1={2} x2={AX} y1={yP(t)} y2={yP(t)} stroke={GRID} strokeWidth={1.2} />
      ))}
      {stochGrid.map((t) => (
        <line key={t} x1={2} x2={AX} y1={yS(t)} y2={yS(t)} stroke={GRID} strokeWidth={1.2} />
      ))}
      {momTicks.map((t) => (
        <line key={t} x1={2} x2={AX} y1={yM(t)} y2={yM(t)} stroke={GRID} strokeWidth={1.2} />
      ))}

      {/* main pane */}
      <g clipPath="url(#main)">
        <line x1={2} x2={AX} y1={yP(0.77668)} y2={yP(0.77668)} stroke={RED} strokeDasharray="1.5 2.5" strokeWidth={1} />
        <path d={priceLine(upperOuter)!} {...PaleRed} />
        <path d={priceLine(upperInner)!} {...PaleRed} />
        <path d={priceLine(upperNearSepNov)!} {...PaleRed} />
        <path d={priceLine(upperNearJan)!} {...PaleRed} />
        <path d={priceLine(upperNearMar)!} {...PaleRed} />
        <path d={priceLine(lowerNear)!} {...PaleGreen} />
        <path d={priceLine(lowerMid)!} {...PaleGreen} />
        <path d={priceLine(lowerOuter)!} {...PaleGreen} />
        <path d={priceLine(longGreenA)!} fill="none" stroke="rgba(56,142,60,0.65)" strokeWidth={1.2} />
        <path d={priceLine(longRed)!} fill="none" stroke="rgba(239,83,80,0.6)" strokeWidth={1.2} />
        <path d={priceLine(longGreenB)!} fill="none" stroke="rgba(56,142,60,0.65)" strokeWidth={1.2} />
        {candles.map((c, i) => {
          const [o, h, l, cl] = c;
          const up = cl >= o;
          const cx = Math.round(x(i));
          const top = yP(Math.max(o, cl) / 1e4), bot = yP(Math.min(o, cl) / 1e4);
          return (
            <g key={i}>
              <rect x={cx} y={yP(h / 1e4)} width={1} height={Math.max(1, yP(l / 1e4) - yP(h / 1e4))} fill="#000" />
              <rect x={cx - 1} y={top} width={3} height={Math.max(1.5, bot - top)} fill={up ? GREEN : RED} />
            </g>
          );
        })}
        {maSegments().map((s, i) => (
          <path key={i} d={priceLine(s.pts)!} fill="none" stroke={s.up ? "rgba(56,142,60,0.85)" : "rgba(244,67,54,0.8)"} strokeWidth={1} />
        ))}
        <path d={priceLine(triangleUpper)!} fill="none" stroke="#ffa726" strokeWidth={1.2} />
        <path d={priceLine(triangleLower)!} fill="none" stroke="#ffa726" strokeWidth={1.2} />
        {levelValues.map((v, i) => (
          <line key={i} x1={x(levelFrom[i])} x2={x(levelTo[i])} y1={yP(v / 1e4)} y2={yP(v / 1e4)} stroke={levelColors[i]} strokeWidth={levelWidths[i]} />
        ))}
        <line x1={x(223)} x2={x(223)} y1={yP(0.7851)} y2={yP(0.7757)} stroke="#000" strokeWidth={1} />
        <path d={priceLine(forecastPath)!} fill="none" stroke="#2a62ac" strokeWidth={1.3} />
        <path d={priceLine(forecastHead)!} fill="none" stroke="#2a62ac" strokeWidth={1.3} />
      </g>
      {levelValues.map((v, i) => levelLabels[i] && (
        <text key={i} x={x(levelFrom[i]) - 3} y={yP(v / 1e4) + 1} textAnchor="end" fontSize={12} fill="#333" dominantBaseline="central">{levelLabels[i]}</text>
      ))}
      {levelValues.map((v, i) => levelTags[i] && (
        <text key={i} x={x(levelTo[i]) + 5} y={yP(v / 1e4)} fontSize={12.5} fill={tagColors[i]} dominantBaseline="central">{levelTags[i]}</text>
      ))}

      {/* stochastic pane */}
      <rect x={2} y={yS(52.5)} width={AX - 2} height={yS(45) - yS(52.5)} fill="#f3f5f8" />
      {stochLevels.map((v) => (
        <line key={v} x1={2} x2={AX} y1={yS(v)} y2={yS(v)} strokeWidth={1.1}
          stroke={v === 80 ? RED : v === 25 ? "#4a9a4e" : "#5a5d66"} />
      ))}
      <path d={stochLine(slowK)!} fill="none" stroke="#4caf50" strokeWidth={1} />
      <path d={stochLine(slowD)!} fill="none" stroke="#f44336" strokeWidth={1} />
      <path d={stochLine(fastK)!} fill="none" stroke="#4caf50" strokeWidth={1} />
      <path d={stochLine(fastD)!} fill="none" stroke="#f44336" strokeWidth={1} />

      {/* momentum pane */}
      <line x1={x(momentumLevelRange[0])} x2={x(momentumLevelRange[1])} y1={yM(momentumLevel)} y2={yM(momentumLevel)} stroke="#ffb74d" strokeWidth={1.5} />
      {rangesOf().map((r, i) => {
        const pts: P[] = momentum.map((v, k) => [k, v] as P).slice(r.from, r.to + 1);
        return <path key={i} d={momLine(pts)!} fill="none" strokeWidth={3.4} strokeLinejoin="round"
          stroke={r.red ? "rgba(244,67,54,0.62)" : "rgba(76,175,80,0.65)"} />;
      })}
      <line x1={x(0)} x2={x(259)} y1={yM(0)} y2={yM(0)} stroke="#4a4d55" strokeWidth={1.1} />

      {/* frame */}
      <line x1={1.5} x2={1.5} y1={2} y2={1050} stroke="#5a5d66" strokeWidth={1.2} />
      <line x1={AX + 0.5} x2={AX + 0.5} y1={0} y2={1053} stroke={AXIS} strokeWidth={1.2} />
      {[733.3, 895.3, 1022.3].map((yy) => (
        <line key={yy} x1={2} x2={W} y1={yy} y2={yy} stroke="#5a5d66" strokeWidth={1.2} />
      ))}
      <line x1={0} x2={W} y1={1050.5} y2={1050.5} stroke="#e0e3eb" />

      {/* axes */}
      {priceTicks.map((t) => (
        <g key={t}>
          <line x1={AX} x2={AX + 5} y1={yP(t)} y2={yP(t)} stroke={AXIS} />
          <text x={AX + 10} y={yP(t) + 1} fontSize={12} fill={AXIS} dominantBaseline="central">{t.toFixed(5)}</text>
        </g>
      ))}
      {stochTicks.map((t) => (
        <g key={t}>
          <line x1={AX} x2={AX + 5} y1={yS(t)} y2={yS(t)} stroke={AXIS} />
          <text x={AX + 10} y={yS(t) + 1} fontSize={12} fill={AXIS} dominantBaseline="central">{t.toFixed(2)}</text>
        </g>
      ))}
      {momTicks.map((t) => (
        <g key={t}>
          <line x1={AX} x2={AX + 5} y1={yM(t)} y2={yM(t)} stroke={AXIS} />
          <text x={AX + 10} y={yM(t) + 1} fontSize={12} fill={AXIS} dominantBaseline="central">{t < 0 ? "−" + Math.abs(t).toFixed(5) : t.toFixed(5)}</text>
        </g>
      ))}
      {monthIdx.map((m, i) => (
        <g key={i}>
          <line x1={x(m)} x2={x(m)} y1={1022} y2={1027} stroke={AXIS} />
          <text x={x(m)} y={1036} textAnchor="middle" fontSize={12} fill={AXIS} fontWeight={monthNames[i] === "2021" ? 700 : 400} dominantBaseline="central">{monthNames[i]}</text>
        </g>
      ))}

      {/* price tag */}
      <path d={`M${AX + 1},191 H1629 a3,3 0 0 1 3,3 V219 a3,3 0 0 1 -3,3 H${AX + 1} Z`} fill="#f44336" />
      <text x={AX + 10} y={199.5} fontSize={12} fontWeight={700} fill="#fff" dominantBaseline="central">0.77668</text>
      <text x={AX + 10} y={214} fontSize={12} fill="#ffd9d5" dominantBaseline="central">13:20:22</text>

      {/* USD */}
      <rect x={1593.5} y={8.5} width={28} height={20} rx={3} fill="#fff" stroke="#d6d8df" />
      <text x={1607.5} y={19} textAnchor="middle" fontSize={12} fill="#444" dominantBaseline="central">USD</text>

      {/* header */}
      {pieces.map(([s, px, c], i) => (
        <text key={i} x={px} y={20} fontSize={12.5} fill={c} dominantBaseline="central">{s}</text>
      ))}
      <Btn x0={11} y0={33} w={39} h={20} label="17" />
      <Btn x0={11} y0={740} w={32} h={20} label="2" />

      {/* watermark */}
      <circle cx={1513} cy={1003} r={22.5} fill="url(#logo)" />
      <path d="M1503,1000 c-2,-9 9,-13 15,-9 c7,4 8,15 2,21 c-5,6 -13,9 -19,8 c7,-2 15,-5 15,-14 c0,-5 -5,-8 -8,-5 c-2,2 -1,4 1,4 c-2,3 -5,0 -6,-5 Z" fill="url(#swirl)" stroke="#f7c84e" strokeWidth={2} />
      <text x={1540} y={1000} fontSize={32} fontWeight={700} fill="#8a8a8a" fillOpacity={0.88} fontFamily="'Noto Sans CJK SC'" dominantBaseline="central" letterSpacing={0.5}>中金网</text>
      <text x={1541} y={1022} fontSize={10} fill="#aaa" dominantBaseline="central" letterSpacing={0.9}>CNGOLD.COM.CN</text>
      <text x={1493} y={1035} fontSize={12} fill="#b5b5b5" fontFamily="'Noto Sans CJK SC'" dominantBaseline="central" letterSpacing={8.5}>中文财经新媒体</text>
      <circle cx={1607} cy={1038} r={9} fill="#e4e9f6" fillOpacity={0.7} />
      <text x={1607} y={1036} textAnchor="middle" fontSize={11} fill="#2a62ac" dominantBaseline="central">A</text>
    </svg>
  );
}
